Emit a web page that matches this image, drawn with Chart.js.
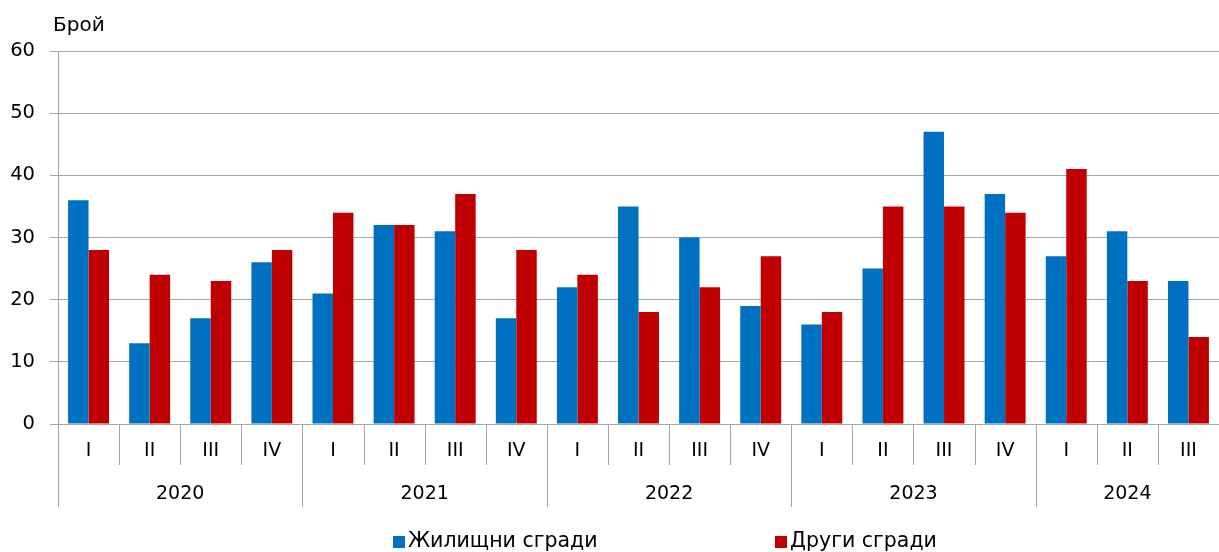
<!DOCTYPE html>
<html>
<head>
<meta charset="utf-8">
<script src="https://cdn.jsdelivr.net/npm/chart.js@4"></script>
<style>
	body { margin: 0; background: #fff; }
	#wrap { width: 1219px; height: 552px; position: relative; }
</style>
</head>
<body>
<div id="wrap"><canvas id="buildings"></canvas></div>
<script>
var quarters = ["I", "II", "III", "IV", "I", "II", "III", "IV", "I", "II", "III", "IV", "I", "II", "III", "IV", "I", "II", "III"];
var years = ["2020", "2021", "2022", "2023", "2024"];
var yearSizes = [4, 4, 4, 4, 3];
var housing = [36, 13, 17, 26, 21, 32, 31, 17, 22, 35, 30, 19, 16, 25, 47, 37, 27, 31, 23];
var other = [28, 24, 23, 28, 34, 32, 37, 28, 24, 18, 22, 27, 18, 35, 35, 34, 41, 23, 14];

var FONT = "'DejaVu Sans', Verdana, sans-serif";
var GRID = "#a6a6a6";

var axisPlugin = {
	id: 'twoLevelAxis',
	afterDraw: function(chart){
		var ctx = chart.ctx;
		var x = chart.scales.x;
		var area = chart.chartArea;
		var half = (x.getPixelForValue(1) - x.getPixelForValue(0)) / 2;

		ctx.save();
		ctx.strokeStyle = GRID;
		ctx.lineWidth = 1;
		ctx.fillStyle = "#000";
		ctx.font = "19px " + FONT;
		ctx.textAlign = "center";
		ctx.textBaseline = "middle";

		// quarter labels and short separators
		for (var i = 0; i < quarters.length; i++) {
			var px = x.getPixelForValue(i);
			ctx.fillText(quarters[i], px, area.bottom + 27);
			if (i > 0) {
				var sx = Math.round(px - half) + 0.5;
				ctx.beginPath();
				ctx.moveTo(sx, area.bottom);
				ctx.lineTo(sx, area.bottom + 41);
				ctx.stroke();
			}
		}

		// year labels and long separators
		var start = 0;
		for (var j = 0; j < years.length; j++) {
			var end = start + yearSizes[j] - 1;
			var cx = (x.getPixelForValue(start) + x.getPixelForValue(end)) / 2;
			ctx.fillText(years[j], cx, area.bottom + 70);
			var lx = Math.round(x.getPixelForValue(start) - half) + 0.5;
			ctx.beginPath();
			ctx.moveTo(lx, area.bottom);
			ctx.lineTo(lx, area.bottom + 83);
			ctx.stroke();
			start = end + 1;
		}

		// unit label
		ctx.textAlign = "left";
		ctx.font = "20px " + FONT;
		ctx.fillText("Брой", 53, 26);

		// legend
		var items = chart.data.datasets;
		var lx0 = [393, 775];
		ctx.font = "20.5px " + FONT;
		for (var k = 0; k < items.length; k++) {
			ctx.fillStyle = items[k].backgroundColor;
			ctx.fillRect(lx0[k], 536, 12, 12);
			ctx.fillStyle = "#000";
			ctx.fillText(items[k].label, lx0[k] + 15, 542);
		}
		ctx.restore();
	}
};

var dataBuildings = {
	labels: quarters,
	datasets: [
		{
			label: 'Жилищни сгради',
			data: housing,
			backgroundColor: "#0070c0",
			categoryPercentage: 0.67,
			barPercentage: 1.0
		},
		{
			label: 'Други сгради',
			data: other,
			backgroundColor: "#c00000",
			categoryPercentage: 0.67,
			barPercentage: 1.0
		}
	]
};

var configBuildings = {
	type: 'bar',
	data: dataBuildings,
	options: {
		responsive: true,
		maintainAspectRatio: false,
		animation: false,
		layout: { padding: { top: 51, right: 0, left: 0, bottom: 0 } },
		plugins: {
			legend: { display: false },
			tooltip: { enabled: false }
		},
		scales: {
			x: {
				ticks: { display: false },
				grid: { display: false },
				border: { display: true, color: GRID },
				afterFit: function(scale){ scale.height = 128; }
			},
			y: {
				min: 0,
				max: 60,
				ticks: {
					stepSize: 10,
					padding: 15,
					color: "#000",
					font: { family: FONT, size: 19.5 }
				},
				grid: { color: GRID, tickLength: 8 },
				border: { display: true, color: GRID },
				afterFit: function(scale){ scale.width = 58; }
			}
		}
	},
	plugins: [axisPlugin]
};

var buildingsChart = new Chart(
	document.getElementById('buildings'),
	configBuildings
);
</script>
</body>
</html>
